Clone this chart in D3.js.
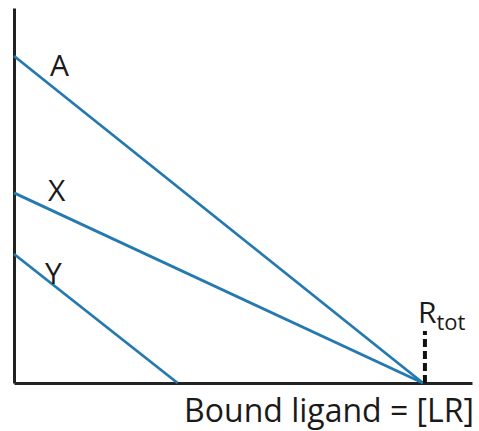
<!DOCTYPE html>
<html>
<head>
<meta charset="utf-8">
<script src="https://cdn.jsdelivr.net/npm/d3@7"></script>
<style>
  body { margin: 0; background: #fff; }
  text { font-family: "Open Sans", "Noto Sans", sans-serif; fill: #1a1a1a; }
</style>
</head>
<body>
<svg id="chart"></svg>
<script>
// lines as [bound ligand, bound/free] endpoints, Rtot = 1
const lineNames = ["A", "X", "Y"];
const lineStarts = [[0, 0.872], [0, 0.507], [0, 0.344]];
const lineEnds = [[1, 0], [1, 0], [0.40, 0]];
const rtot = 1;

const width = 479, height = 431;
const margin = { top: 8, right: 7, bottom: 48, left: 14 };

const svg = d3.select('#chart')
    .attr('width', width)
    .attr('height', height);

const xScale = d3.scaleLinear()
    .domain([0, 1.12])
    .range([margin.left, width - margin.right]);

const yScale = d3.scaleLinear()
    .domain([0, 1])
    .range([height - margin.bottom, margin.top]);

// axes, no ticks
svg.append('g')
    .attr('transform', `translate(0,${yScale(0)})`)
    .call(d3.axisBottom(xScale).ticks(0).tickSize(0).tickSizeOuter(0))
    .call(g => g.select('.domain').attr('stroke', '#222').attr('stroke-width', 3));

svg.append('g')
    .attr('transform', `translate(${xScale(0)},0)`)
    .call(d3.axisLeft(yScale).ticks(0).tickSize(0).tickSizeOuter(0))
    .call(g => g.select('.domain').attr('stroke', '#222').attr('stroke-width', 3));

// lines
const lineData = lineNames.map((n, i) => ({ name: n, pts: [lineStarts[i], lineEnds[i]] }));
const line = d3.line().x(d => xScale(d[0])).y(d => yScale(d[1]));

svg.selectAll('path.series')
    .data(lineData)
    .join('path')
    .attr('class', 'series')
    .attr('d', d => line(d.pts))
    .attr('fill', 'none')
    .attr('stroke', '#2379b0')
    .attr('stroke-width', 2.8);

// line labels
const labelOffsets = { A: [36, 20], X: [34, 8], Y: [31, 30] };
svg.selectAll('text.lbl')
    .data(lineData)
    .join('text')
    .attr('class', 'lbl')
    .attr('x', d => xScale(d.pts[0][0]) + labelOffsets[d.name][0])
    .attr('y', d => yScale(d.pts[0][1]) + labelOffsets[d.name][1])
    .attr('font-size', 30)
    .text(d => d.name);

// Rtot marker
svg.append('line')
    .attr('x1', xScale(rtot) + 2).attr('x2', xScale(rtot) + 2)
    .attr('y1', yScale(0)).attr('y2', yScale(0) - 52)
    .attr('stroke', '#111')
    .attr('stroke-width', 4)
    .attr('stroke-dasharray', '8,4');

const rt = svg.append('text')
    .attr('x', xScale(rtot) - 5)
    .attr('y', yScale(0) - 60)
    .attr('font-size', 30);
rt.append('tspan').text('R');
rt.append('tspan').attr('dy', 7).attr('font-size', 22).text('tot');

// x-axis title
svg.append('text')
    .attr('x', width - 5)
    .attr('y', height - 9)
    .attr('text-anchor', 'end')
    .attr('font-size', 32)
    .text('Bound ligand = [LR]');
</script>
</body>
</html>
